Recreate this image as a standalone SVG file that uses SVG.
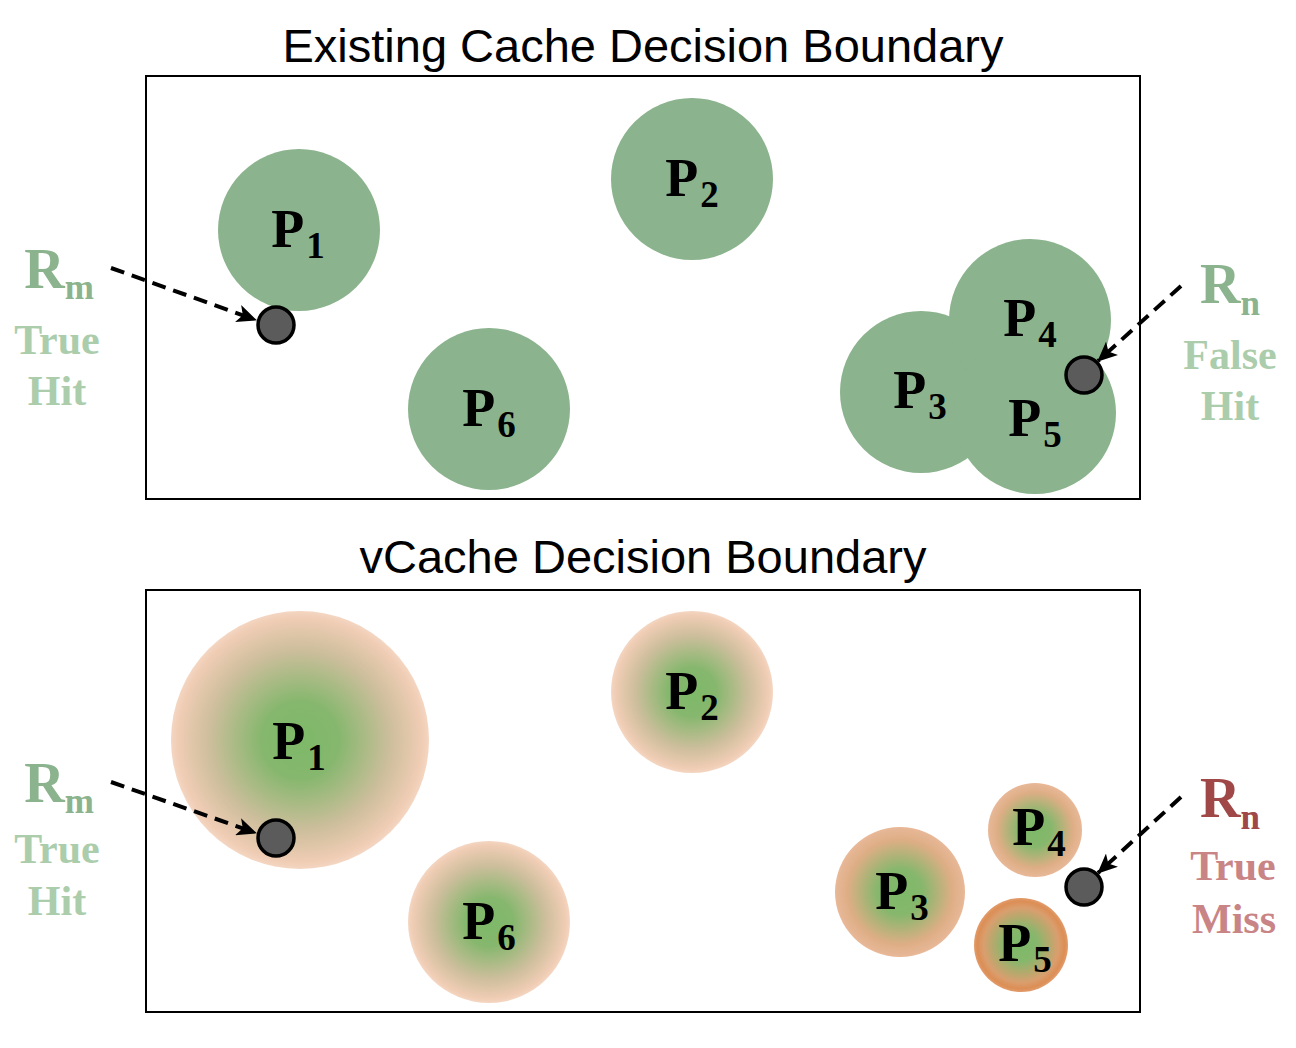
<svg xmlns="http://www.w3.org/2000/svg" width="1296" height="1048" viewBox="0 0 1296 1048">
<defs>
<radialGradient id="gSoft" cx="0.5" cy="0.5" r="0.5">
<stop offset="0" stop-color="#7DB968"/>
<stop offset="0.3" stop-color="#86B76E"/>
<stop offset="0.7" stop-color="#CDBE9C"/>
<stop offset="0.95" stop-color="#F0CDB5"/>
<stop offset="1" stop-color="#F4D6C2"/>
</radialGradient>
<radialGradient id="gMid" cx="0.5" cy="0.5" r="0.5">
<stop offset="0" stop-color="#7DB968"/>
<stop offset="0.35" stop-color="#86B76C"/>
<stop offset="0.8" stop-color="#DDAE85"/>
<stop offset="1" stop-color="#E8B898"/>
</radialGradient>
<radialGradient id="gStrong" cx="0.5" cy="0.5" r="0.5">
<stop offset="0" stop-color="#7DB968"/>
<stop offset="0.35" stop-color="#86B76C"/>
<stop offset="0.8" stop-color="#DA9E6E"/>
<stop offset="0.93" stop-color="#DC8E55"/>
<stop offset="1" stop-color="#E29C6C"/>
</radialGradient>
<marker id="arrow" viewBox="0 0 20 18" refX="19" refY="9" markerWidth="20" markerHeight="18" markerUnits="userSpaceOnUse" orient="auto">
<path d="M0,0 L20,9 L0,18 L5,9 Z" fill="#000"/>
</marker>
</defs>
<style>
.title{font-family:"Liberation Sans",Arial,sans-serif;font-size:47px;fill:#000;text-anchor:middle}
.box{fill:none;stroke:#000;stroke-width:2}
.pc{fill:#8BB38D}
.pl{font-family:"Liberation Serif","Times New Roman",serif;font-weight:bold;font-size:54px;fill:#000;text-anchor:middle}
.sub{font-size:37px}
.q{fill:#5B5B5B;stroke:#000;stroke-width:3.5}
.conn{fill:none;stroke:#000;stroke-width:4;stroke-dasharray:14,8}
.lab{font-family:"Liberation Serif","Times New Roman",serif;font-weight:bold;text-anchor:middle}
.rs{font-size:35px}
.rg{fill:#8BB38D;font-size:56px}
.lg{fill:#ABCDAB;font-size:42px}
.rr{fill:#A04848;font-size:56px}
.lr{fill:#C98486;font-size:42px}
</style>

<text class="title" x="643" y="62">Existing Cache Decision Boundary</text>
<rect class="box" x="146" y="76" width="994" height="423"/>
<text class="title" x="643" y="573">vCache Decision Boundary</text>
<rect class="box" x="146" y="590" width="994" height="422"/>

<!-- top panel nodes -->
<g id="top-P1"><circle class="pc" cx="299" cy="230" r="81"/><text class="pl" x="298" y="247">P<tspan class="sub" dx="2" dy="11">1</tspan></text></g>
<g id="top-P2"><circle class="pc" cx="692" cy="179" r="81"/><text class="pl" x="692" y="196">P<tspan class="sub" dx="2" dy="11">2</tspan></text></g>
<g id="top-P6"><circle class="pc" cx="489" cy="409" r="81"/><text class="pl" x="489" y="426">P<tspan class="sub" dx="2" dy="11">6</tspan></text></g>
<g id="top-P3"><circle class="pc" cx="921" cy="392" r="81"/></g>
<g id="top-P4"><circle class="pc" cx="1030" cy="320" r="81"/></g>
<g id="top-P5"><circle class="pc" cx="1035" cy="413" r="81"/></g>
<g id="top-labels-345">
<text class="pl" x="920" y="408">P<tspan class="sub" dx="2" dy="11">3</tspan></text>
<text class="pl" x="1030" y="336">P<tspan class="sub" dx="2" dy="11">4</tspan></text>
<text class="pl" x="1035" y="436">P<tspan class="sub" dx="2" dy="11">5</tspan></text>
</g>
<g id="top-Rm-point"><circle class="q" cx="276" cy="325" r="18"/></g>
<g id="top-Rn-point"><circle class="q" cx="1084" cy="375" r="18"/></g>
<g id="top-Rm-label">
<text class="lab rg" x="59" y="288">R<tspan class="rs" dy="11">m</tspan></text>
<text class="lab lg" x="57" y="354">True</text>
<text class="lab lg" x="57" y="405">Hit</text>
</g>
<g id="top-Rn-label">
<text class="lab rg" x="1230" y="303">R<tspan class="rs" dy="12">n</tspan></text>
<text class="lab lg" x="1230" y="369">False</text>
<text class="lab lg" x="1230" y="420">Hit</text>
</g>

<!-- bottom panel nodes -->
<g id="bot-P1"><circle fill="url(#gSoft)" cx="300" cy="740" r="129"/><text class="pl" x="299" y="759">P<tspan class="sub" dx="2" dy="11">1</tspan></text></g>
<g id="bot-P2"><circle fill="url(#gSoft)" cx="692" cy="692" r="81"/><text class="pl" x="692" y="709">P<tspan class="sub" dx="2" dy="11">2</tspan></text></g>
<g id="bot-P6"><circle fill="url(#gSoft)" cx="489" cy="922" r="81"/><text class="pl" x="489" y="939">P<tspan class="sub" dx="2" dy="11">6</tspan></text></g>
<g id="bot-P3"><circle fill="url(#gMid)" cx="900" cy="892" r="65"/><text class="pl" x="902" y="909">P<tspan class="sub" dx="2" dy="11">3</tspan></text></g>
<g id="bot-P4"><circle fill="url(#gMid)" cx="1035" cy="830" r="47"/><text class="pl" x="1039" y="845">P<tspan class="sub" dx="2" dy="11">4</tspan></text></g>
<g id="bot-P5"><circle fill="url(#gStrong)" cx="1021" cy="945" r="47"/><text class="pl" x="1025" y="961">P<tspan class="sub" dx="2" dy="11">5</tspan></text></g>
<g id="bot-Rm-point"><circle class="q" cx="276" cy="838" r="18"/></g>
<g id="bot-Rn-point"><circle class="q" cx="1084" cy="887" r="18"/></g>
<g id="bot-Rm-label">
<text class="lab rg" x="59" y="802">R<tspan class="rs" dy="11">m</tspan></text>
<text class="lab lg" x="57" y="863">True</text>
<text class="lab lg" x="57" y="915">Hit</text>
</g>
<g id="bot-Rn-label">
<text class="lab rr" x="1230" y="817">R<tspan class="rs" dy="12">n</tspan></text>
<text class="lab lr" x="1233" y="880">True</text>
<text class="lab lr" x="1234" y="933">Miss</text>
</g>

<g id="connectors">
<path class="conn" d="M111,268 L256,320" marker-end="url(#arrow)"/>
<path class="conn" d="M1181,286 L1098,361" marker-end="url(#arrow)"/>
<path class="conn" d="M111,782 L256,833" marker-end="url(#arrow)"/>
<path class="conn" d="M1181,797 L1098,873" marker-end="url(#arrow)"/>
</g>
</svg>
